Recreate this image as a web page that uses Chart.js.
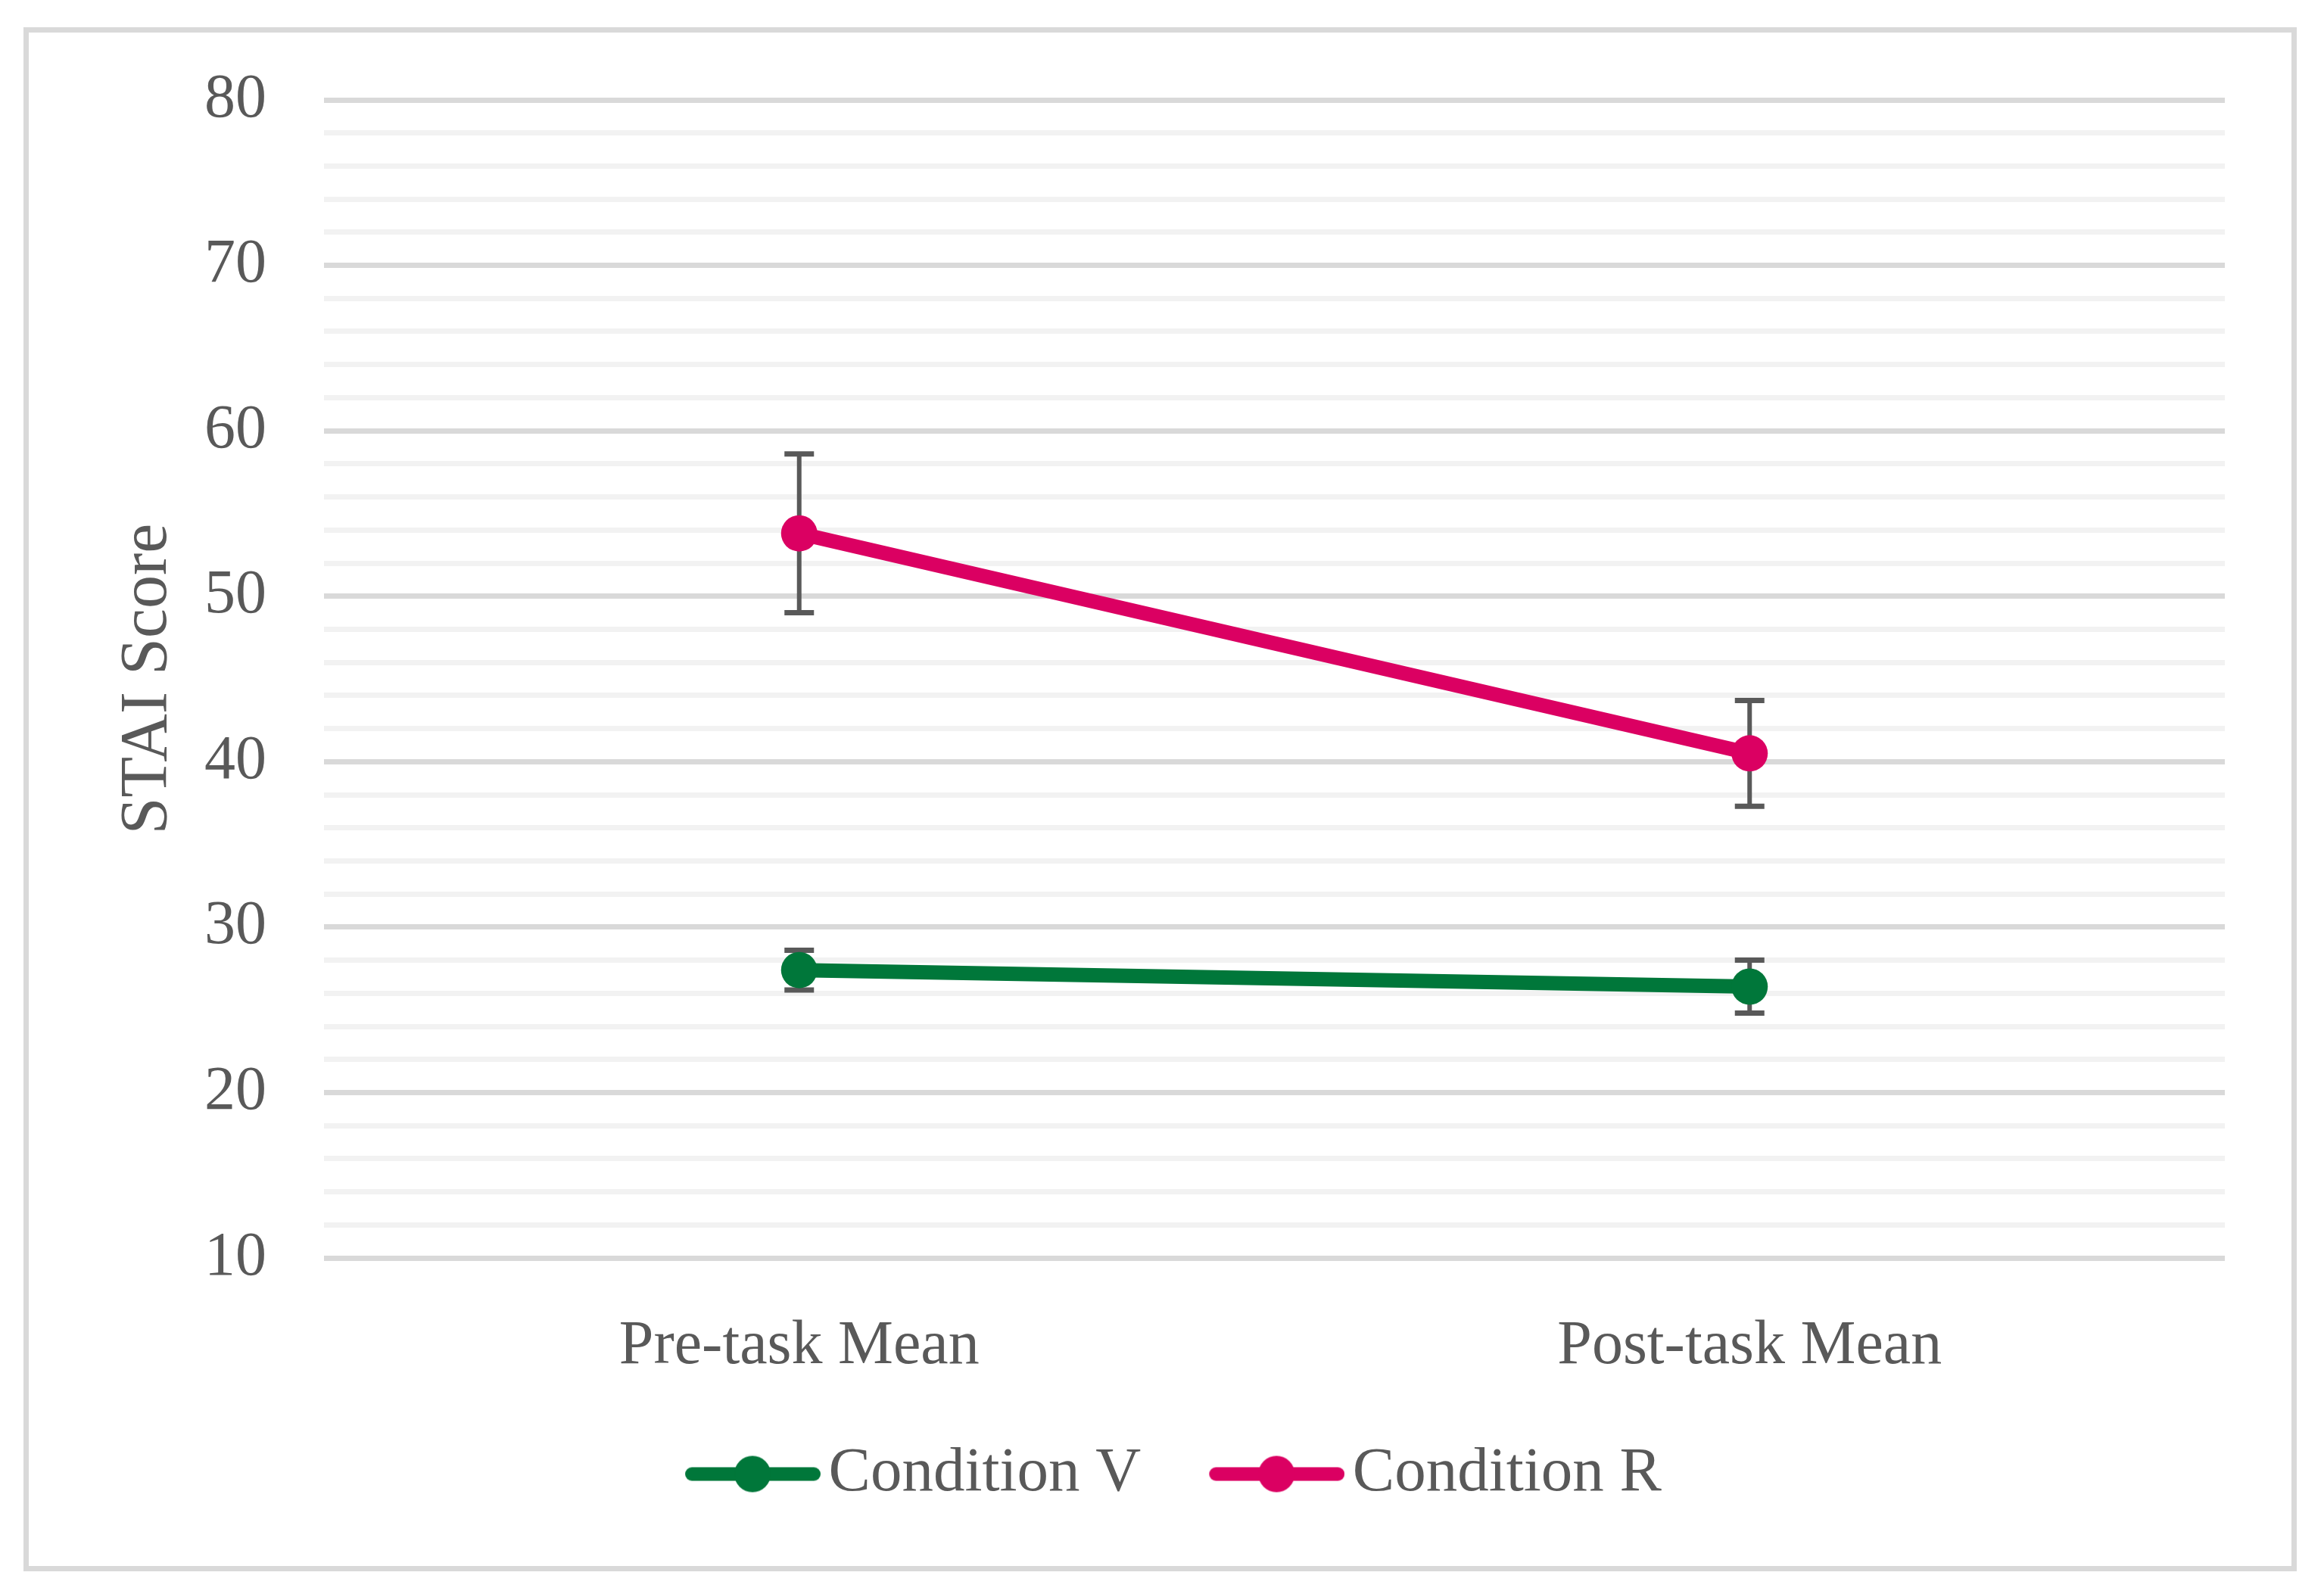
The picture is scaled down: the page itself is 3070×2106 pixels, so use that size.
<!DOCTYPE html>
<html>
<head>
<meta charset="utf-8">
<script src="https://cdn.jsdelivr.net/npm/chart.js@4.4.1/dist/chart.umd.min.js"></script>
<style>
    body { margin: 0; background: #fff; overflow: hidden; }
    #marco {
        position: absolute; left: 31px; top: 36px;
        width: 3003px; height: 2040px;
        border: 7px solid #d9d9d9; box-sizing: border-box;
    }
    #grafico { position: absolute; left: 0; top: 0; }
</style>
</head>
<body>
<div id="marco"></div>
<canvas id="grafico" width="3070" height="2106"></canvas>
<script>
// Datos
const momentos = ['Pre-task Mean', 'Post-task Mean'];
const condicionV = [27.4, 26.4];
const errorV = [1.2, 1.6];
const condicionR = [53.8, 40.5];
const errorR = [4.8, 3.2];
const ejeY = { min: 10, max: 80, paso: 2, etiquetaCada: 10 };

const GRIS_TEXTO = '#595959';
const VERDE = '#00773a';
const ROJO = '#db0062';
const FUENTE = 'Liberation Serif';

// Icono de leyenda: linea con circulo (margen transparente a la izquierda)
function iconoLeyenda(color) {
    const margen = 61;
    const c = document.createElement('canvas');
    c.width = margen + 179;
    c.height = 50;
    const ctx = c.getContext('2d');
    ctx.strokeStyle = color;
    ctx.lineWidth = 18;
    ctx.lineCap = 'round';
    ctx.beginPath();
    ctx.moveTo(margen + 9, 25);
    ctx.lineTo(margen + 170, 25);
    ctx.stroke();
    ctx.fillStyle = color;
    ctx.beginPath();
    ctx.arc(margen + 89, 25, 24, 0, Math.PI * 2);
    ctx.fill();
    return c;
}

// Barras de error dibujadas con las escalas del grafico
const barrasError = {
    id: 'barrasError',
    beforeDatasetsDraw(chart) {
        const ctx = chart.ctx;
        const y = chart.scales.y;
        ctx.save();
        ctx.strokeStyle = '#595959';
        chart.data.datasets.forEach((ds, i) => {
            const meta = chart.getDatasetMeta(i);
            meta.data.forEach((pt, j) => {
                const e = ds.errores[j];
                const yArriba = y.getPixelForValue(ds.data[j] + e);
                const yAbajo = y.getPixelForValue(ds.data[j] - e);
                ctx.lineWidth = 6;
                ctx.beginPath();
                ctx.moveTo(pt.x, yArriba);
                ctx.lineTo(pt.x, yAbajo);
                ctx.stroke();
                ctx.lineWidth = 7;
                ctx.beginPath();
                ctx.moveTo(pt.x - 19.5, yArriba);
                ctx.lineTo(pt.x + 19.5, yArriba);
                ctx.moveTo(pt.x - 19.5, yAbajo);
                ctx.lineTo(pt.x + 19.5, yAbajo);
                ctx.stroke();
            });
        });
        ctx.restore();
    }
};

const iconos = [iconoLeyenda(VERDE), iconoLeyenda(ROJO)];

new Chart(document.getElementById('grafico'), {
    type: 'line',
    data: {
        labels: momentos,
        datasets: [
            {
                label: 'Condition V',
                data: condicionV,
                errores: errorV,
                borderColor: VERDE,
                backgroundColor: VERDE,
                borderWidth: 19,
                pointRadius: 24,
                pointBorderWidth: 0,
                pointStyle: 'circle',
                tension: 0
            },
            {
                label: 'Condition R',
                data: condicionR,
                errores: errorR,
                borderColor: ROJO,
                backgroundColor: ROJO,
                borderWidth: 19,
                pointRadius: 24,
                pointBorderWidth: 0,
                pointStyle: 'circle',
                tension: 0
            }
        ]
    },
    options: {
        responsive: false,
        animation: false,
        devicePixelRatio: 1,
        layout: { padding: { left: 131, right: 131, top: 132, bottom: 107 } },
        plugins: {
            tooltip: { enabled: false },
            legend: {
                position: 'bottom',
                labels: {
                    usePointStyle: true,
                    pointStyleWidth: 178,
                    padding: 60,
                    color: GRIS_TEXTO,
                    font: { family: FUENTE, size: 83 },
                    generateLabels(chart) {
                        return chart.data.datasets.map((ds, i) => ({
                            text: ds.label,
                            fontColor: GRIS_TEXTO,
                            pointStyle: iconos[i],
                            datasetIndex: i,
                            lineWidth: 0
                        }));
                    }
                }
            }
        },
        scales: {
            x: {
                offset: true,
                grid: { display: false },
                border: { display: false },
                ticks: {
                    color: GRIS_TEXTO,
                    padding: 60,
                    maxRotation: 0,
                    font: { family: FUENTE, size: 82 }
                },
                afterFit(scale) { scale.height = 184; }
            },
            y: {
                min: ejeY.min,
                max: ejeY.max,
                border: { display: false },
                grid: {
                    drawTicks: false,
                    lineWidth: 7,
                    color: c => (c.tick && c.tick.value % ejeY.etiquetaCada === 0) ? '#d9d9d9' : '#f2f2f2'
                },
                ticks: {
                    stepSize: ejeY.paso,
                    autoSkip: false,
                    padding: 76,
                    color: GRIS_TEXTO,
                    font: { family: FUENTE, size: 82 },
                    callback: v => (v % ejeY.etiquetaCada === 0 ? v : '')
                },
                title: {
                    display: true,
                    text: 'STAI Score',
                    color: GRIS_TEXTO,
                    padding: { top: 12, bottom: 0 },
                    font: { family: FUENTE, size: 88 }
                },
                afterFit(scale) { scale.width = 297; }
            }
        }
    },
    plugins: [barrasError]
});
</script>
</body>
</html>
